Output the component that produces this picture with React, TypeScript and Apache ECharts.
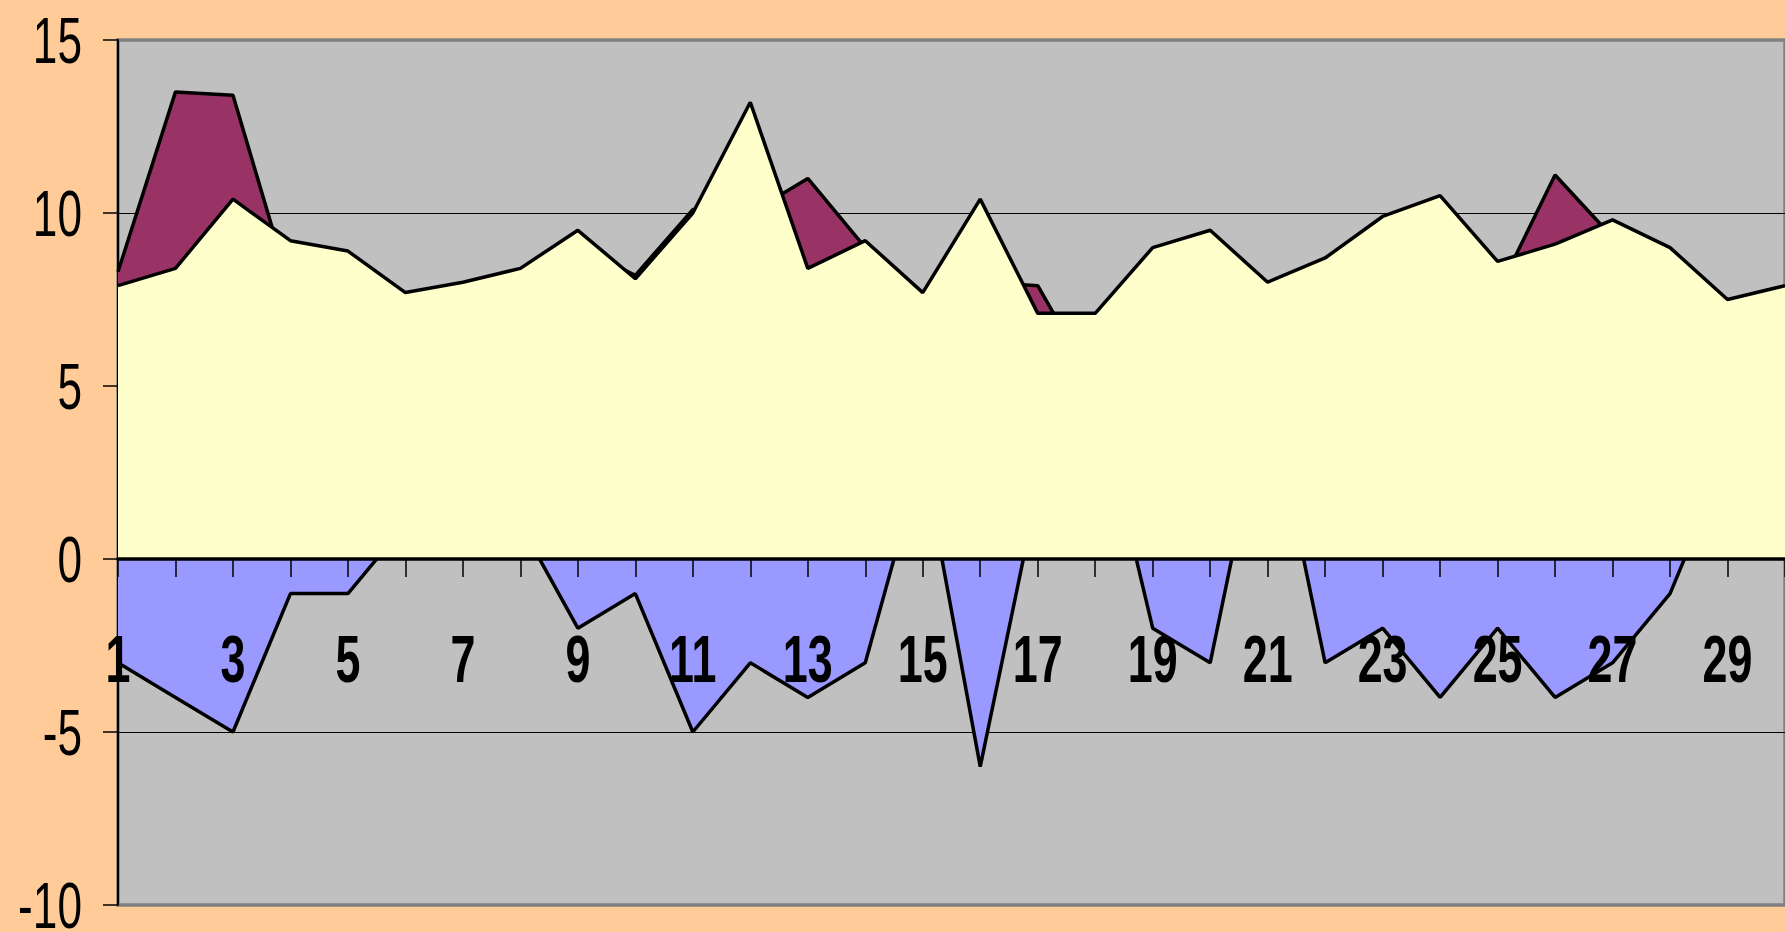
import React, { useEffect, useRef } from "react";
import * as echarts from "echarts";

const days = ["1","2","3","4","5","6","7","8","9","10","11","12","13","14","15","16","17","18","19","20","21","22","23","24","25","26","27","28","29","30"];
const upperSeries = [8.3, 13.5, 13.4, 7.8, 8.4, 7.2, 7.5, 8.0, 9.0, 8.2, 10.1, 10.0, 11.0, 9.0, 7.2, 8.0, 7.9, 5.0, 8.5, 9.0, 7.5, 8.2, 9.4, 10.0, 7.7, 11.1, 9.3, 8.5, 7.0, 7.4];
const middleSeries = [7.9, 8.4, 10.4, 9.2, 8.9, 7.7, 8.0, 8.4, 9.5, 8.1, 10.0, 13.2, 8.4, 9.2, 7.7, 10.4, 7.1, 7.1, 9.0, 9.5, 8.0, 8.7, 9.9, 10.5, 8.6, 9.1, 9.8, 9.0, 7.5, 7.9];
const lowerSeries = [-3, -4, -5, -1, -1, 1, 2, 1, -2, -1, -5, -3, -4, -3, 3, -6, 2, 5, -2, -3, 5, -3, -2, -4, -2, -4, -3, -1, 3, 2];
const yTicks = [15, 10, 5, 0, -5, -10];
const xLabelDays = ["1","3","5","7","9","11","13","15","17","19","21","23","25","27","29"];
const yMin = -10;
const yMax = 15;
const yStep = 5;

const FONT = "'Liberation Sans', Arial, sans-serif";
const GRID_LEFT = 118;

export default function App() {
  const ref = useRef<HTMLDivElement>(null);
  useEffect(() => {
    if (!ref.current) return;
    const chart = echarts.init(ref.current, undefined, { renderer: "svg" });
    const areaSeries = (data: number[], fill: string, z: number) => ({
      type: "line",
      data,
      z,
      symbol: "none",
      silent: true,
      lineStyle: { color: "#000", width: 3.5 },
      areaStyle: { color: fill, opacity: 1 },
    });
    chart.setOption({
      animation: false,
      backgroundColor: "#FFCC99",
      grid: {
        left: GRID_LEFT,
        right: 0,
        top: 40,
        bottom: 27,
        show: true,
        outerBoundsMode: "none",
        containLabel: false,
        backgroundColor: "#C0C0C0",
        borderColor: "#808080",
        borderWidth: 3.5,
      },
      xAxis: {
        type: "category",
        data: days,
        boundaryGap: false,
        z: 10,
        axisLine: { onZero: true, lineStyle: { color: "#000", width: 3.5 } },
        axisTick: { show: true, interval: 0, length: 18, lineStyle: { color: "#000", width: 1.5 } },
        axisLabel: { show: false },
        splitLine: { show: false },
      },
      yAxis: {
        type: "value",
        min: yMin,
        max: yMax,
        interval: yStep,
        axisLine: { show: true, lineStyle: { color: "#000", width: 2 } },
        axisTick: { show: true, length: 15, lineStyle: { color: "#000", width: 1.5 } },
        axisLabel: { show: false },
        splitLine: {
          show: true,
          showMinLine: false,
          showMaxLine: false,
          lineStyle: { color: "#000", width: 1.2 },
        },
      },
      series: [
        areaSeries(upperSeries, "#993366", 1),
        areaSeries(lowerSeries, "#9999FF", 2),
        areaSeries(middleSeries, "#FFFFCC", 3),
      ],
    });

    const zeroY = chart.convertToPixel({ yAxisIndex: 0 }, 0) as number;
    const graphics: any[] = [];
    xLabelDays.forEach((d) => {
      const px = chart.convertToPixel({ xAxisIndex: 0 }, d) as number;
      graphics.push({
        type: "text",
        x: px,
        y: zeroY + 100,
        scaleX: 0.68,
        z: 20,
        silent: true,
        style: {
          text: d,
          fontFamily: FONT,
          fontWeight: "bold",
          fontSize: 66,
          fill: "#000",
          align: "center",
          verticalAlign: "middle",
        },
      });
    });
    yTicks.forEach((v) => {
      const py = chart.convertToPixel({ yAxisIndex: 0 }, v) as number;
      graphics.push({
        type: "text",
        x: GRID_LEFT - 36,
        y: py + 1,
        scaleX: 0.68,
        z: 20,
        silent: true,
        style: {
          text: String(v),
          fontFamily: FONT,
          fontSize: 65,
          fill: "#000",
          align: "right",
          verticalAlign: "middle",
        },
      });
    });
    chart.setOption({ graphic: graphics });

    return () => chart.dispose();
  }, []);
  return (
    <div
      ref={ref}
      style={{ position: "fixed", left: 0, top: 0, width: "1785px", height: "932px" }}
    />
  );
}
